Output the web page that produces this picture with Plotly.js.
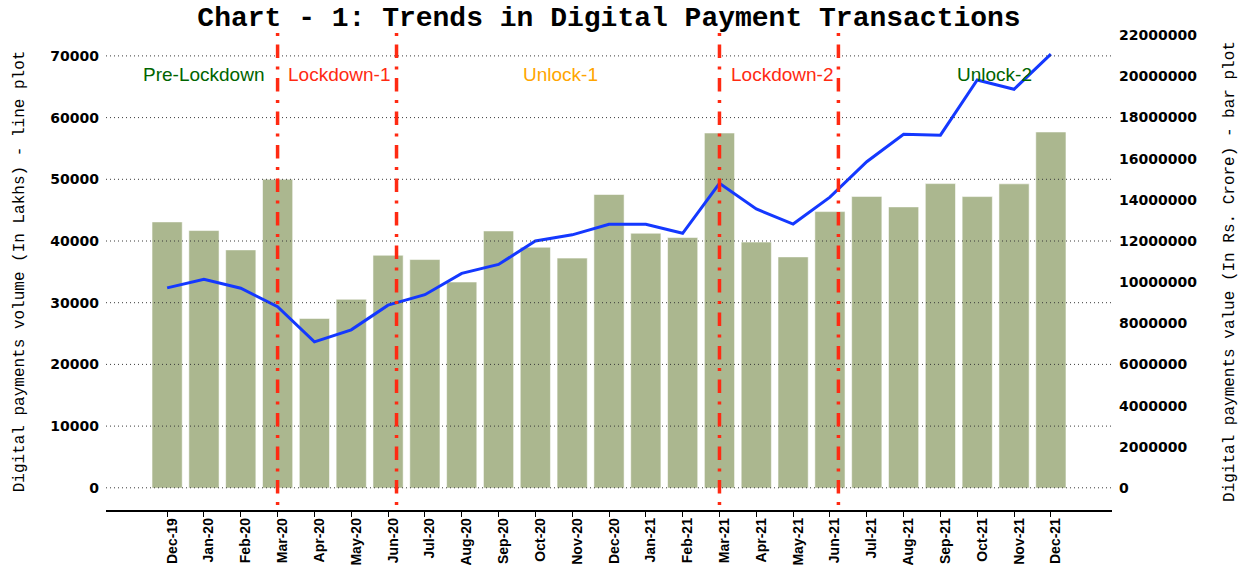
<!DOCTYPE html>
<html>
<head>
<meta charset="utf-8">
<script src="https://cdn.plot.ly/plotly-3.0.1.min.js"></script>
<style>
  html, body { margin: 0; padding: 0; background: #ffffff; }
  #chart { width: 1247px; height: 565px; }
</style>
</head>
<body>
<div id="chart"></div>
<script>
// ---------------- data ----------------
const months = ["Dec-19","Jan-20","Feb-20","Mar-20","Apr-20","May-20","Jun-20","Jul-20","Aug-20",
  "Sep-20","Oct-20","Nov-20","Dec-20","Jan-21","Feb-21","Mar-21","Apr-21","May-21","Jun-21",
  "Jul-21","Aug-21","Sep-21","Oct-21","Nov-21","Dec-21"];

// Digital payments volume (In Lakhs) - line plot (left axis)
const volumeLakhs = [32400, 33800, 32350, 29350, 23650, 25600, 29600, 31300, 34750,
  36200, 40000, 41000, 42700, 42700, 41250, 49350, 45200, 42750, 47100,
  52850, 57300, 57150, 66100, 64600, 70300];

// Digital payments value (In Rs. Crore) - bar plot (right axis)
const valueCrore = [12930000, 12510000, 11570000, 15000000, 8240000, 9170000, 11310000, 11100000, 10010000,
  12490000, 11700000, 11170000, 14260000, 12380000, 12170000, 17250000, 11950000, 11230000, 13430000,
  14170000, 13660000, 14790000, 14160000, 14780000, 17300000];

const volumeTicks = [0, 10000, 20000, 30000, 40000, 50000, 60000, 70000];
const valueTicks = [0, 2000000, 4000000, 6000000, 8000000, 10000000, 12000000, 14000000,
  16000000, 18000000, 20000000, 22000000];

// phase boundaries (in month-index units) and phase labels
const phaseBounds = [3, 6.23, 15, 18.23];
const phaseLabels = ["Pre-Lockdown", "Lockdown-1", "Unlock-1", "Lockdown-2", "Unlock-2"];
const phaseCenters = [1, 4.66, 10.68, 16.69, 22.48];
const phaseLabelLevel = 67000;
const phaseColors = ["#006400", "#ff2a12", "#ffa500", "#ff2a12", "#006400"];

const titleText = "Chart - 1: Trends in Digital Payment Transactions";
const leftTitle = "Digital payments volume (In Lakhs) - line plot";
const rightTitle = "Digital payments value (In Rs. Crore) - bar plot";

// ---------------- chart ----------------
const xIdx = months.map((m, i) => i);

const barTrace = {
  type: "bar",
  x: xIdx,
  y: valueCrore,
  yaxis: "y",
  width: 0.82,
  marker: { color: "#abb78f", line: { color: "rgba(255,255,255,0.55)", width: 1 } },
  hoverinfo: "skip",
  showlegend: false
};

const lineTrace = {
  type: "scatter",
  mode: "lines",
  x: xIdx,
  y: volumeLakhs,
  yaxis: "y2",
  line: { color: "#1438ff", width: 3 },
  hoverinfo: "skip",
  showlegend: false
};

const shapes = [];
volumeTicks.forEach(v => {
  shapes.push({
    type: "line", xref: "paper", x0: 0, x1: 1, yref: "y2", y0: v, y1: v,
    line: { color: "#3a3a3a", width: 1, dash: "1px,3px" }, layer: "above"
  });
});
phaseBounds.forEach(b => {
  shapes.push({
    type: "line", xref: "x", x0: b, x1: b, yref: "paper", y0: 1, y1: 0,
    line: { color: "#ff2a12", width: 3.5, dash: "3px,8.5px,13.5px,8.5px" }, layer: "above"
  });
});

const annotations = phaseLabels.map((t, i) => ({
  text: t, x: phaseCenters[i], y: phaseLabelLevel, xref: "x", yref: "y2",
  showarrow: false, xanchor: "center", yanchor: "middle",
  font: { family: "Liberation Sans, Arial, sans-serif", size: 19, color: phaseColors[i] }
}));

const layout = {
  width: 1247,
  height: 565,
  margin: { l: 106, r: 135, t: 33, b: 55 },
  paper_bgcolor: "#ffffff",
  plot_bgcolor: "#ffffff",
  title: {
    text: "<b>" + titleText + "</b>",
    x: 0.5, xref: "paper", xanchor: "center",
    y: 0.972, yref: "container", yanchor: "middle",
    font: { family: "Liberation Mono, Courier New, monospace", size: 28, color: "#000000" }
  },
  xaxis: {
    range: [-1.66, 25.66],
    tickmode: "array",
    tickvals: xIdx,
    ticktext: months,
    tickangle: -90,
    ticks: "outside",
    ticklen: 5,
    tickwidth: 1,
    tickcolor: "#000000",
    ticklabelstandoff: -4,
    ticklabelshift: 5,
    showline: true,
    linecolor: "#000000",
    linewidth: 1.5,
    showgrid: false,
    zeroline: false,
    tickfont: { family: "Liberation Sans, Arial, sans-serif", size: 14, color: "#000000", weight: "bold" }
  },
  yaxis: {
    side: "right",
    range: [-1069000, 22109000],
    tickmode: "array",
    tickvals: valueTicks,
    ticktext: valueTicks.map(v => String(v)),
    ticks: "",
    ticklabelstandoff: 6,
    showgrid: false,
    zeroline: false,
    showline: false,
    tickfont: { family: "DejaVu Sans, sans-serif", size: 14, color: "#000000", weight: "bold" },
    title: {
      text: rightTitle,
      standoff: 26,
      font: { family: "Liberation Mono, Courier New, monospace", size: 16, color: "#000000" }
    }
  },
  yaxis2: {
    overlaying: "y",
    side: "left",
    range: [-3598, 73711],
    tickmode: "array",
    tickvals: volumeTicks,
    ticktext: volumeTicks.map(v => String(v)),
    ticks: "",
    ticklabelstandoff: 6,
    showgrid: false,
    zeroline: false,
    showline: false,
    tickfont: { family: "DejaVu Sans, sans-serif", size: 14, color: "#000000", weight: "bold" },
    title: {
      text: leftTitle,
      standoff: 21,
      font: { family: "Liberation Mono, Courier New, monospace", size: 16, color: "#000000" }
    }
  },
  shapes: shapes,
  annotations: annotations,
  bargap: 0.18
};

Plotly.newPlot("chart", [barTrace, lineTrace], layout, { displayModeBar: false, staticPlot: true });
</script>
</body>
</html>
